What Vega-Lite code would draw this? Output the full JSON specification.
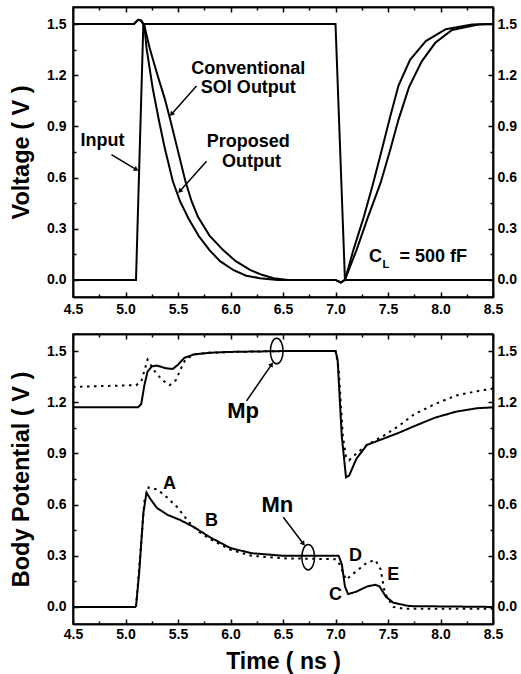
{
  "$schema": "https://vega.github.io/schema/vega-lite/v6.json",
  "padding": {"left": 8, "top": 5, "right": 2, "bottom": 4},
  "spacing": 15,
  "config": {
    "font": "Liberation Sans",
    "view": {"stroke": "black", "strokeWidth": 1.5},
    "axis": {
      "grid": false,
      "labelFont": "Liberation Sans", "labelFontWeight": "bold", "labelFontSize": 14, "labelColor": "black",
      "labelFlush": false, "labelOverlap": false,
      "titleFont": "Liberation Sans", "titleFontWeight": "bold", "titleColor": "black",
      "domainColor": "black", "domainWidth": 1.5, "tickColor": "black", "tickWidth": 1.5
    }
  },
  "datasets": {
    "top": [
      {"t": 4.5, "v": 0, "s": "Input"}, {"t": 5.1, "v": 0, "s": "Input"}, {"t": 5.17, "v": 1.5, "s": "Input"},
      {"t": 7.0, "v": 1.5, "s": "Input"}, {"t": 7.09, "v": 0, "s": "Input"}, {"t": 8.5, "v": 0, "s": "Input"},
      {"t": 4.5, "v": 1.5, "s": "Proposed Output"}, {"t": 5.08, "v": 1.5, "s": "Proposed Output"}, {"t": 5.12, "v": 1.525, "s": "Proposed Output"},
      {"t": 5.15, "v": 1.52, "s": "Proposed Output"}, {"t": 5.18, "v": 1.49, "s": "Proposed Output"}, {"t": 5.2, "v": 1.36, "s": "Proposed Output"},
      {"t": 5.26, "v": 1.12, "s": "Proposed Output"}, {"t": 5.32, "v": 0.93, "s": "Proposed Output"}, {"t": 5.375, "v": 0.77, "s": "Proposed Output"},
      {"t": 5.45, "v": 0.58, "s": "Proposed Output"}, {"t": 5.52, "v": 0.46, "s": "Proposed Output"}, {"t": 5.6, "v": 0.36, "s": "Proposed Output"},
      {"t": 5.7, "v": 0.255, "s": "Proposed Output"}, {"t": 5.8, "v": 0.175, "s": "Proposed Output"}, {"t": 5.9, "v": 0.11, "s": "Proposed Output"},
      {"t": 6.03, "v": 0.057, "s": "Proposed Output"}, {"t": 6.15, "v": 0.025, "s": "Proposed Output"}, {"t": 6.28, "v": 0.01, "s": "Proposed Output"},
      {"t": 6.45, "v": 0.0, "s": "Proposed Output"}, {"t": 7.0, "v": 0.0, "s": "Proposed Output"}, {"t": 7.05, "v": -0.015, "s": "Proposed Output"},
      {"t": 7.09, "v": 0.0, "s": "Proposed Output"}, {"t": 7.17, "v": 0.175, "s": "Proposed Output"}, {"t": 7.27, "v": 0.37, "s": "Proposed Output"},
      {"t": 7.36, "v": 0.57, "s": "Proposed Output"}, {"t": 7.44, "v": 0.76, "s": "Proposed Output"}, {"t": 7.52, "v": 0.955, "s": "Proposed Output"},
      {"t": 7.6, "v": 1.14, "s": "Proposed Output"}, {"t": 7.71, "v": 1.29, "s": "Proposed Output"}, {"t": 7.86, "v": 1.4, "s": "Proposed Output"},
      {"t": 8.05, "v": 1.47, "s": "Proposed Output"}, {"t": 8.3, "v": 1.497, "s": "Proposed Output"}, {"t": 8.5, "v": 1.5, "s": "Proposed Output"},
      {"t": 4.5, "v": 1.5, "s": "Conventional SOI Output"}, {"t": 5.08, "v": 1.5, "s": "Conventional SOI Output"}, {"t": 5.12, "v": 1.525, "s": "Conventional SOI Output"},
      {"t": 5.15, "v": 1.52, "s": "Conventional SOI Output"}, {"t": 5.18, "v": 1.49, "s": "Conventional SOI Output"}, {"t": 5.23, "v": 1.36, "s": "Conventional SOI Output"},
      {"t": 5.3, "v": 1.21, "s": "Conventional SOI Output"}, {"t": 5.375, "v": 1.06, "s": "Conventional SOI Output"}, {"t": 5.43, "v": 0.93, "s": "Conventional SOI Output"},
      {"t": 5.49, "v": 0.78, "s": "Conventional SOI Output"}, {"t": 5.57, "v": 0.58, "s": "Conventional SOI Output"}, {"t": 5.63, "v": 0.46, "s": "Conventional SOI Output"},
      {"t": 5.69, "v": 0.37, "s": "Conventional SOI Output"}, {"t": 5.8, "v": 0.26, "s": "Conventional SOI Output"}, {"t": 5.93, "v": 0.175, "s": "Conventional SOI Output"},
      {"t": 6.05, "v": 0.11, "s": "Conventional SOI Output"}, {"t": 6.19, "v": 0.057, "s": "Conventional SOI Output"}, {"t": 6.3, "v": 0.03, "s": "Conventional SOI Output"},
      {"t": 6.41, "v": 0.01, "s": "Conventional SOI Output"}, {"t": 6.55, "v": 0.0, "s": "Conventional SOI Output"}, {"t": 7.0, "v": 0.0, "s": "Conventional SOI Output"},
      {"t": 7.05, "v": -0.015, "s": "Conventional SOI Output"}, {"t": 7.09, "v": 0.0, "s": "Conventional SOI Output"}, {"t": 7.2, "v": 0.175, "s": "Conventional SOI Output"},
      {"t": 7.31, "v": 0.37, "s": "Conventional SOI Output"}, {"t": 7.43, "v": 0.57, "s": "Conventional SOI Output"}, {"t": 7.52, "v": 0.76, "s": "Conventional SOI Output"},
      {"t": 7.6, "v": 0.94, "s": "Conventional SOI Output"}, {"t": 7.7, "v": 1.13, "s": "Conventional SOI Output"}, {"t": 7.82, "v": 1.28, "s": "Conventional SOI Output"},
      {"t": 7.95, "v": 1.39, "s": "Conventional SOI Output"}, {"t": 8.11, "v": 1.465, "s": "Conventional SOI Output"}, {"t": 8.36, "v": 1.497, "s": "Conventional SOI Output"},
      {"t": 8.5, "v": 1.5, "s": "Conventional SOI Output"}
    ],
    "topText": [
      {"t": 4.78, "v": 0.814, "label": "Input"},
      {"t": 6.17, "v": 1.235, "label": "Conventional"},
      {"t": 6.17, "v": 1.124, "label": "SOI Output"},
      {"t": 6.17, "v": 0.81, "label": "Proposed"},
      {"t": 6.2, "v": 0.694, "label": "Output"},
      {"t": 7.38, "v": 0.137, "label": "C"},
      {"t": 7.93, "v": 0.137, "label": "= 500 fF"}
    ],
    "topSub": [{"t": 7.48, "v": 0.085, "label": "L"}],
    "topArrows": [
      {"t1": 4.866, "v1": 0.735, "t2": 5.104, "v2": 0.647},
      {"t1": 5.676, "v1": 1.137, "t2": 5.438, "v2": 0.971},
      {"t1": 5.772, "v1": 0.696, "t2": 5.517, "v2": 0.52}
    ],
    "bot": [
      {"t": 4.5, "v": 1.17, "dev": "Mp", "s": "Proposed"}, {"t": 5.12, "v": 1.17, "dev": "Mp", "s": "Proposed"}, {"t": 5.15, "v": 1.19, "dev": "Mp", "s": "Proposed"},
      {"t": 5.18, "v": 1.3, "dev": "Mp", "s": "Proposed"}, {"t": 5.21, "v": 1.38, "dev": "Mp", "s": "Proposed"}, {"t": 5.25, "v": 1.41, "dev": "Mp", "s": "Proposed"},
      {"t": 5.3, "v": 1.415, "dev": "Mp", "s": "Proposed"}, {"t": 5.38, "v": 1.4, "dev": "Mp", "s": "Proposed"}, {"t": 5.45, "v": 1.395, "dev": "Mp", "s": "Proposed"},
      {"t": 5.5, "v": 1.42, "dev": "Mp", "s": "Proposed"}, {"t": 5.56, "v": 1.46, "dev": "Mp", "s": "Proposed"}, {"t": 5.65, "v": 1.48, "dev": "Mp", "s": "Proposed"},
      {"t": 5.8, "v": 1.49, "dev": "Mp", "s": "Proposed"}, {"t": 6.0, "v": 1.495, "dev": "Mp", "s": "Proposed"}, {"t": 6.5, "v": 1.5, "dev": "Mp", "s": "Proposed"},
      {"t": 7.0, "v": 1.5, "dev": "Mp", "s": "Proposed"}, {"t": 7.02, "v": 1.45, "dev": "Mp", "s": "Proposed"}, {"t": 7.06, "v": 1.0, "dev": "Mp", "s": "Proposed"},
      {"t": 7.1, "v": 0.76, "dev": "Mp", "s": "Proposed"}, {"t": 7.13, "v": 0.77, "dev": "Mp", "s": "Proposed"}, {"t": 7.2, "v": 0.87, "dev": "Mp", "s": "Proposed"},
      {"t": 7.3, "v": 0.95, "dev": "Mp", "s": "Proposed"}, {"t": 7.45, "v": 0.985, "dev": "Mp", "s": "Proposed"}, {"t": 7.6, "v": 1.02, "dev": "Mp", "s": "Proposed"},
      {"t": 7.75, "v": 1.06, "dev": "Mp", "s": "Proposed"}, {"t": 7.95, "v": 1.11, "dev": "Mp", "s": "Proposed"}, {"t": 8.15, "v": 1.145, "dev": "Mp", "s": "Proposed"},
      {"t": 8.35, "v": 1.165, "dev": "Mp", "s": "Proposed"}, {"t": 8.5, "v": 1.17, "dev": "Mp", "s": "Proposed"},
      {"t": 4.5, "v": 1.29, "dev": "Mp", "s": "Conventional SOI"}, {"t": 5.1, "v": 1.3, "dev": "Mp", "s": "Conventional SOI"}, {"t": 5.15, "v": 1.32, "dev": "Mp", "s": "Conventional SOI"},
      {"t": 5.21, "v": 1.45, "dev": "Mp", "s": "Conventional SOI"}, {"t": 5.28, "v": 1.38, "dev": "Mp", "s": "Conventional SOI"}, {"t": 5.35, "v": 1.33, "dev": "Mp", "s": "Conventional SOI"},
      {"t": 5.42, "v": 1.3, "dev": "Mp", "s": "Conventional SOI"}, {"t": 5.48, "v": 1.33, "dev": "Mp", "s": "Conventional SOI"}, {"t": 5.53, "v": 1.4, "dev": "Mp", "s": "Conventional SOI"},
      {"t": 5.57, "v": 1.45, "dev": "Mp", "s": "Conventional SOI"}, {"t": 5.65, "v": 1.48, "dev": "Mp", "s": "Conventional SOI"}, {"t": 5.8, "v": 1.49, "dev": "Mp", "s": "Conventional SOI"},
      {"t": 6.0, "v": 1.495, "dev": "Mp", "s": "Conventional SOI"}, {"t": 6.5, "v": 1.5, "dev": "Mp", "s": "Conventional SOI"}, {"t": 7.0, "v": 1.5, "dev": "Mp", "s": "Conventional SOI"},
      {"t": 7.03, "v": 1.4, "dev": "Mp", "s": "Conventional SOI"}, {"t": 7.07, "v": 1.0, "dev": "Mp", "s": "Conventional SOI"}, {"t": 7.1, "v": 0.88, "dev": "Mp", "s": "Conventional SOI"},
      {"t": 7.13, "v": 0.86, "dev": "Mp", "s": "Conventional SOI"}, {"t": 7.2, "v": 0.9, "dev": "Mp", "s": "Conventional SOI"}, {"t": 7.3, "v": 0.95, "dev": "Mp", "s": "Conventional SOI"},
      {"t": 7.45, "v": 1.0, "dev": "Mp", "s": "Conventional SOI"}, {"t": 7.6, "v": 1.06, "dev": "Mp", "s": "Conventional SOI"}, {"t": 7.75, "v": 1.13, "dev": "Mp", "s": "Conventional SOI"},
      {"t": 7.95, "v": 1.19, "dev": "Mp", "s": "Conventional SOI"}, {"t": 8.15, "v": 1.24, "dev": "Mp", "s": "Conventional SOI"}, {"t": 8.35, "v": 1.265, "dev": "Mp", "s": "Conventional SOI"},
      {"t": 8.5, "v": 1.28, "dev": "Mp", "s": "Conventional SOI"},
      {"t": 4.5, "v": 0, "dev": "Mn", "s": "Proposed"}, {"t": 5.1, "v": 0, "dev": "Mn", "s": "Proposed"}, {"t": 5.13, "v": 0.2, "dev": "Mn", "s": "Proposed"},
      {"t": 5.17, "v": 0.55, "dev": "Mn", "s": "Proposed"}, {"t": 5.2, "v": 0.67, "dev": "Mn", "s": "Proposed"}, {"t": 5.24, "v": 0.63, "dev": "Mn", "s": "Proposed"},
      {"t": 5.3, "v": 0.58, "dev": "Mn", "s": "Proposed"}, {"t": 5.4, "v": 0.54, "dev": "Mn", "s": "Proposed"}, {"t": 5.52, "v": 0.51, "dev": "Mn", "s": "Proposed"},
      {"t": 5.66, "v": 0.465, "dev": "Mn", "s": "Proposed"}, {"t": 5.8, "v": 0.41, "dev": "Mn", "s": "Proposed"}, {"t": 6.0, "v": 0.345, "dev": "Mn", "s": "Proposed"},
      {"t": 6.2, "v": 0.315, "dev": "Mn", "s": "Proposed"}, {"t": 6.5, "v": 0.3, "dev": "Mn", "s": "Proposed"}, {"t": 7.03, "v": 0.3, "dev": "Mn", "s": "Proposed"},
      {"t": 7.06, "v": 0.25, "dev": "Mn", "s": "Proposed"}, {"t": 7.09, "v": 0.12, "dev": "Mn", "s": "Proposed"}, {"t": 7.12, "v": 0.075, "dev": "Mn", "s": "Proposed"},
      {"t": 7.2, "v": 0.09, "dev": "Mn", "s": "Proposed"}, {"t": 7.3, "v": 0.12, "dev": "Mn", "s": "Proposed"}, {"t": 7.38, "v": 0.13, "dev": "Mn", "s": "Proposed"},
      {"t": 7.42, "v": 0.12, "dev": "Mn", "s": "Proposed"}, {"t": 7.48, "v": 0.06, "dev": "Mn", "s": "Proposed"}, {"t": 7.55, "v": 0.025, "dev": "Mn", "s": "Proposed"},
      {"t": 7.7, "v": 0.005, "dev": "Mn", "s": "Proposed"}, {"t": 8.5, "v": 0.0, "dev": "Mn", "s": "Proposed"},
      {"t": 4.5, "v": 0, "dev": "Mn", "s": "Conventional SOI"}, {"t": 5.1, "v": 0, "dev": "Mn", "s": "Conventional SOI"}, {"t": 5.14, "v": 0.3, "dev": "Mn", "s": "Conventional SOI"},
      {"t": 5.18, "v": 0.62, "dev": "Mn", "s": "Conventional SOI"}, {"t": 5.22, "v": 0.7, "dev": "Mn", "s": "Conventional SOI"}, {"t": 5.3, "v": 0.69, "dev": "Mn", "s": "Conventional SOI"},
      {"t": 5.4, "v": 0.64, "dev": "Mn", "s": "Conventional SOI"}, {"t": 5.5, "v": 0.58, "dev": "Mn", "s": "Conventional SOI"}, {"t": 5.6, "v": 0.5, "dev": "Mn", "s": "Conventional SOI"},
      {"t": 5.7, "v": 0.44, "dev": "Mn", "s": "Conventional SOI"}, {"t": 5.8, "v": 0.4, "dev": "Mn", "s": "Conventional SOI"}, {"t": 6.0, "v": 0.335, "dev": "Mn", "s": "Conventional SOI"},
      {"t": 6.2, "v": 0.3, "dev": "Mn", "s": "Conventional SOI"}, {"t": 6.5, "v": 0.285, "dev": "Mn", "s": "Conventional SOI"}, {"t": 7.0, "v": 0.28, "dev": "Mn", "s": "Conventional SOI"},
      {"t": 7.04, "v": 0.25, "dev": "Mn", "s": "Conventional SOI"}, {"t": 7.1, "v": 0.16, "dev": "Mn", "s": "Conventional SOI"}, {"t": 7.2, "v": 0.21, "dev": "Mn", "s": "Conventional SOI"},
      {"t": 7.3, "v": 0.26, "dev": "Mn", "s": "Conventional SOI"}, {"t": 7.38, "v": 0.275, "dev": "Mn", "s": "Conventional SOI"}, {"t": 7.43, "v": 0.22, "dev": "Mn", "s": "Conventional SOI"},
      {"t": 7.47, "v": 0.08, "dev": "Mn", "s": "Conventional SOI"}, {"t": 7.55, "v": 0.0, "dev": "Mn", "s": "Conventional SOI"}, {"t": 7.65, "v": -0.01, "dev": "Mn", "s": "Conventional SOI"},
      {"t": 8.5, "v": -0.01, "dev": "Mn", "s": "Conventional SOI"}
    ],
    "botBig": [
      {"t": 6.12, "v": 1.146, "label": "Mp"},
      {"t": 6.446, "v": 0.6, "label": "Mn"}
    ],
    "botSmall": [
      {"t": 5.42, "v": 0.72, "label": "A"},
      {"t": 5.82, "v": 0.506, "label": "B"},
      {"t": 7.0, "v": 0.072, "label": "C"},
      {"t": 7.19, "v": 0.298, "label": "D"},
      {"t": 7.55, "v": 0.19, "label": "E"}
    ],
    "botArrows": [
      {"t1": 6.153, "v1": 1.208, "t2": 6.392, "v2": 1.422},
      {"t1": 6.503, "v1": 0.526, "t2": 6.694, "v2": 0.37}
    ],
    "botEllipses": [
      {"t": 6.44, "v": 1.5, "dev": "Mp"},
      {"t": 6.74, "v": 0.292, "dev": "Mn"}
    ]
  },
  "vconcat": [
    {
      "width": 420, "height": 290,
      "resolve": {"axis": {"x": "independent", "y": "independent"}},
      "layer": [
        {
          "data": {"name": "top"},
          "mark": {"type": "line", "color": "black", "strokeWidth": 2},
          "encoding": {
            "x": {"field": "t", "type": "quantitative", "scale": {"domain": [4.5, 8.5], "nice": false, "zero": false},
                  "axis": {"orient": "bottom", "title": null, "values": [4.5, 5, 5.5, 6, 6.5, 7, 7.5, 8, 8.5], "format": ".1f", "tickSize": -5, "labelPadding": 10}},
            "y": {"field": "v", "type": "quantitative", "scale": {"domain": [-0.1, 1.6], "nice": false, "zero": false},
                  "axis": {"orient": "left", "title": "Voltage ( V )", "titleFontSize": 23.5, "titlePadding": 13, "values": [0, 0.3, 0.6, 0.9, 1.2, 1.5], "format": ".1f", "tickSize": -5, "labelPadding": 12}},
            "detail": {"field": "s"}
          }
        },
        {
          "data": {"name": "topText"},
          "mark": {"type": "text", "fontSize": 18, "fontWeight": "bold", "font": "Liberation Sans", "color": "black", "baseline": "middle", "align": "center"},
          "encoding": {
            "x": {"field": "t", "type": "quantitative", "axis": {"orient": "top", "title": null, "labels": false, "values": [4.5, 5, 5.5, 6, 6.5, 7, 7.5, 8, 8.5], "tickSize": -5}},
            "y": {"field": "v", "type": "quantitative", "axis": {"orient": "right", "title": null, "values": [0, 0.3, 0.6, 0.9, 1.2, 1.5], "format": ".1f", "tickSize": -5, "labelPadding": 9}},
            "text": {"field": "label"}
          }
        },
        {
          "data": {"name": "topArrows"},
          "mark": {"type": "rule", "color": "black", "strokeWidth": 1.5},
          "encoding": {
            "x": {"field": "t1", "type": "quantitative", "axis": {"orient": "bottom", "title": null, "labels": false, "values": [4.75, 5.25, 5.75, 6.25, 6.75, 7.25, 7.75, 8.25], "tickSize": -3}},
            "y": {"field": "v1", "type": "quantitative", "axis": {"orient": "left", "title": null, "labels": false, "values": [0.15, 0.45, 0.75, 1.05, 1.35], "tickSize": -3}},
            "x2": {"field": "t2"},
            "y2": {"field": "v2"}
          }
        },
        {
          "data": {"name": "topSub"},
          "mark": {"type": "text", "fontSize": 11, "fontWeight": "bold", "font": "Liberation Sans", "color": "black", "baseline": "middle", "align": "center"},
          "encoding": {
            "x": {"field": "t", "type": "quantitative", "axis": {"orient": "top", "title": null, "labels": false, "values": [4.75, 5.25, 5.75, 6.25, 6.75, 7.25, 7.75, 8.25], "tickSize": -3}},
            "y": {"field": "v", "type": "quantitative", "axis": {"orient": "right", "title": null, "labels": false, "values": [0.15, 0.45, 0.75, 1.05, 1.35], "tickSize": -3}},
            "text": {"field": "label"}
          }
        },
        {
          "data": {"values": [{"t": 5.104, "v": 0.647}]},
          "mark": {"type": "point", "shape": "triangle-up", "filled": true, "color": "black", "size": 30, "angle": 121, "opacity": 1},
          "encoding": {"x": {"field": "t", "type": "quantitative", "axis": null}, "y": {"field": "v", "type": "quantitative", "axis": null}}
        },
        {
          "data": {"values": [{"t": 5.438, "v": 0.971}]},
          "mark": {"type": "point", "shape": "triangle-up", "filled": true, "color": "black", "size": 30, "angle": 221, "opacity": 1},
          "encoding": {"x": {"field": "t", "type": "quantitative", "axis": null}, "y": {"field": "v", "type": "quantitative", "axis": null}}
        },
        {
          "data": {"values": [{"t": 5.517, "v": 0.52}]},
          "mark": {"type": "point", "shape": "triangle-up", "filled": true, "color": "black", "size": 30, "angle": 222, "opacity": 1},
          "encoding": {"x": {"field": "t", "type": "quantitative", "axis": null}, "y": {"field": "v", "type": "quantitative", "axis": null}}
        }
      ]
    },
    {
      "width": 420, "height": 290,
      "resolve": {"axis": {"x": "independent", "y": "independent"}},
      "layer": [
        {
          "data": {"name": "bot"},
          "mark": {"type": "line", "color": "black", "strokeWidth": 2},
          "encoding": {
            "x": {"field": "t", "type": "quantitative", "scale": {"domain": [4.5, 8.5], "nice": false, "zero": false},
                  "axis": {"orient": "bottom", "title": "Time ( ns )", "titleFontSize": 23, "titlePadding": 9, "values": [4.5, 5, 5.5, 6, 6.5, 7, 7.5, 8, 8.5], "format": ".1f", "tickSize": -5, "labelPadding": 8}},
            "y": {"field": "v", "type": "quantitative", "scale": {"domain": [-0.1, 1.6], "nice": false, "zero": false},
                  "axis": {"orient": "left", "title": "Body Potential ( V )", "titleFontSize": 23.5, "titlePadding": 13, "values": [0, 0.3, 0.6, 0.9, 1.2, 1.5], "format": ".1f", "tickSize": -5, "labelPadding": 12}},
            "detail": [{"field": "dev"}, {"field": "s"}],
            "strokeDash": {"field": "s", "type": "nominal", "scale": {"domain": ["Proposed", "Conventional SOI"], "range": [[1, 0], [2.5, 4.5]]}, "legend": null}
          }
        },
        {
          "data": {"name": "botSmall"},
          "mark": {"type": "text", "fontSize": 18, "fontWeight": "bold", "font": "Liberation Sans", "color": "black", "baseline": "middle", "align": "center"},
          "encoding": {
            "x": {"field": "t", "type": "quantitative", "axis": {"orient": "top", "title": null, "labels": false, "values": [4.5, 5, 5.5, 6, 6.5, 7, 7.5, 8, 8.5], "tickSize": -5}},
            "y": {"field": "v", "type": "quantitative", "axis": {"orient": "right", "title": null, "values": [0, 0.3, 0.6, 0.9, 1.2, 1.5], "format": ".1f", "tickSize": -5, "labelPadding": 9}},
            "text": {"field": "label"}
          }
        },
        {
          "data": {"name": "botArrows"},
          "mark": {"type": "rule", "color": "black", "strokeWidth": 1.5},
          "encoding": {
            "x": {"field": "t1", "type": "quantitative", "axis": {"orient": "bottom", "title": null, "labels": false, "values": [4.75, 5.25, 5.75, 6.25, 6.75, 7.25, 7.75, 8.25], "tickSize": -3}},
            "y": {"field": "v1", "type": "quantitative", "axis": {"orient": "left", "title": null, "labels": false, "values": [0.15, 0.45, 0.75, 1.05, 1.35], "tickSize": -3}},
            "x2": {"field": "t2"},
            "y2": {"field": "v2"}
          }
        },
        {
          "data": {"name": "botBig"},
          "mark": {"type": "text", "fontSize": 22, "fontWeight": "bold", "font": "Liberation Sans", "color": "black", "baseline": "middle", "align": "center"},
          "encoding": {
            "x": {"field": "t", "type": "quantitative", "axis": {"orient": "top", "title": null, "labels": false, "values": [4.75, 5.25, 5.75, 6.25, 6.75, 7.25, 7.75, 8.25], "tickSize": -3}},
            "y": {"field": "v", "type": "quantitative", "axis": {"orient": "right", "title": null, "labels": false, "values": [0.15, 0.45, 0.75, 1.05, 1.35], "tickSize": -3}},
            "text": {"field": "label"}
          }
        },
        {
          "data": {"name": "botEllipses"},
          "mark": {"type": "point", "shape": "M0,-1A0.5,1 0 1,1 0,1A0.5,1 0 1,1 0,-1Z", "size": 650, "filled": false, "color": "black", "strokeWidth": 1.5, "opacity": 1},
          "encoding": {
            "x": {"field": "t", "type": "quantitative", "axis": null},
            "y": {"field": "v", "type": "quantitative", "axis": null}
          }
        },
        {
          "data": {"values": [{"t": 6.392, "v": 1.422}]},
          "mark": {"type": "point", "shape": "triangle-up", "filled": true, "color": "black", "size": 30, "angle": 34, "opacity": 1},
          "encoding": {"x": {"field": "t", "type": "quantitative", "axis": null}, "y": {"field": "v", "type": "quantitative", "axis": null}}
        },
        {
          "data": {"values": [{"t": 6.694, "v": 0.37}]},
          "mark": {"type": "point", "shape": "triangle-up", "filled": true, "color": "black", "size": 30, "angle": 143, "opacity": 1},
          "encoding": {"x": {"field": "t", "type": "quantitative", "axis": null}, "y": {"field": "v", "type": "quantitative", "axis": null}}
        }
      ]
    }
  ]
}
